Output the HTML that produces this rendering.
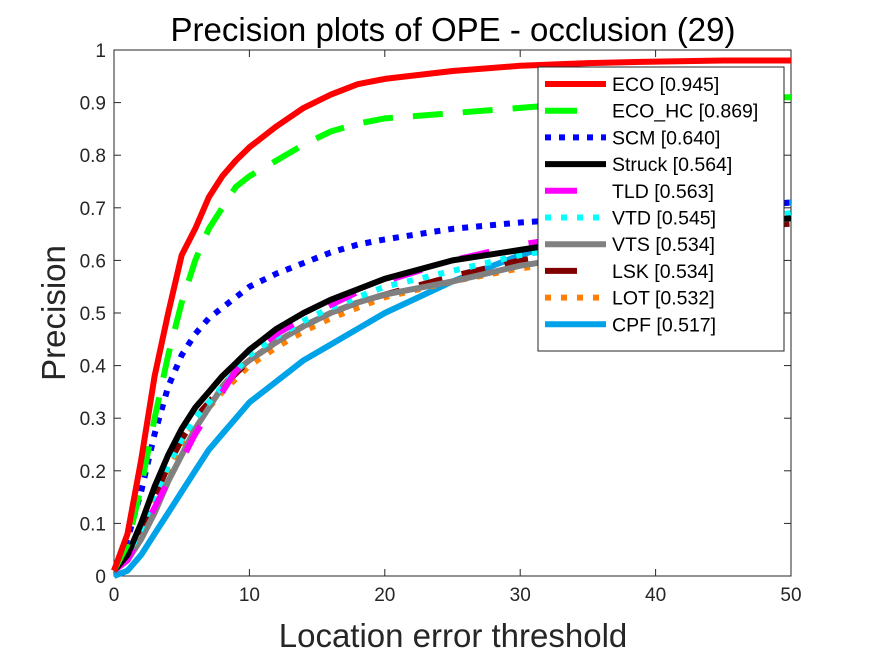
<!DOCTYPE html>
<html><head><meta charset="utf-8"><style>
body{margin:0;background:#fff;}
svg text{font-family:"Liberation Sans",sans-serif;}
</style></head><body>
<svg id="chart" width="875" height="656" xmlns="http://www.w3.org/2000/svg">
<rect width="875" height="656" fill="#fff"/>
<text x="453" y="41" font-size="33" text-anchor="middle" fill="#000">Precision plots of OPE - occlusion (29)</text>
<g id="axes"></g>
<g id="series"></g>
<text x="453" y="647" font-size="33" text-anchor="middle" fill="#262626">Location error threshold</text>
<text transform="translate(65,313) rotate(-90)" font-size="33" text-anchor="middle" fill="#262626">Precision</text>
<g id="legend"></g>
</svg>
<script>
const thresholds=[0,1,2,3,4,5,6,7,8,9,10,12,14,16,18,20,25,30,35,40,45,50];
const seriesNames=["ECO [0.945]","ECO_HC [0.869]","SCM [0.640]","Struck [0.564]","TLD [0.563]","VTD [0.545]","VTS [0.534]","LSK [0.534]","LOT [0.532]","CPF [0.517]"];
const eco=[0.01,0.08,0.22,0.38,0.5,0.61,0.66,0.72,0.76,0.79,0.815,0.855,0.89,0.915,0.935,0.945,0.96,0.97,0.975,0.978,0.98,0.98];
const ecoHc=[0.01,0.06,0.17,0.3,0.42,0.52,0.6,0.66,0.7,0.74,0.76,0.79,0.82,0.845,0.86,0.87,0.88,0.89,0.9,0.905,0.91,0.91];
const scm=[0.01,0.07,0.16,0.27,0.36,0.42,0.46,0.49,0.51,0.53,0.55,0.575,0.595,0.615,0.63,0.64,0.66,0.672,0.68,0.69,0.7,0.71];
const struck=[0.01,0.04,0.1,0.17,0.23,0.28,0.32,0.35,0.38,0.405,0.43,0.47,0.5,0.525,0.545,0.565,0.6,0.62,0.64,0.66,0.67,0.68];
const tld=[0.01,0.03,0.08,0.13,0.18,0.22,0.27,0.31,0.35,0.39,0.42,0.46,0.49,0.515,0.54,0.56,0.6,0.63,0.65,0.66,0.67,0.68];
const vtd=[0.01,0.04,0.09,0.15,0.21,0.26,0.3,0.33,0.36,0.39,0.42,0.455,0.485,0.51,0.53,0.55,0.58,0.61,0.63,0.65,0.67,0.69];
const vts=[0.01,0.03,0.07,0.12,0.18,0.23,0.28,0.32,0.36,0.39,0.41,0.445,0.475,0.5,0.52,0.535,0.56,0.59,0.61,0.64,0.66,0.68];
const lsk=[0.01,0.04,0.09,0.15,0.21,0.26,0.3,0.33,0.36,0.385,0.41,0.445,0.475,0.5,0.52,0.535,0.57,0.6,0.62,0.64,0.66,0.67];
const lot=[0.01,0.03,0.08,0.14,0.2,0.25,0.29,0.32,0.35,0.375,0.4,0.435,0.465,0.49,0.51,0.53,0.56,0.585,0.6,0.62,0.64,0.66];
const cpf=[0,0.01,0.04,0.08,0.12,0.16,0.2,0.24,0.27,0.3,0.33,0.37,0.41,0.44,0.47,0.5,0.56,0.61,0.65,0.68,0.7,0.71];
const xTicks=[0,10,20,30,40,50];
const yTicks=[0,0.1,0.2,0.3,0.4,0.5,0.6,0.7,0.8,0.9,1];
const yTickLabels=["0","0.1","0.2","0.3","0.4","0.5","0.6","0.7","0.8","0.9","1"];

const L=114,R=791,T=50,B=576;
const xs=v=>L+(v/50)*(R-L);
const ys=v=>B-v*(B-T);
const NS="http://www.w3.org/2000/svg";
function mk(tag,attrs,parent){const e=document.createElementNS(NS,tag);for(const k in attrs)e.setAttribute(k,attrs[k]);parent.appendChild(e);return e;}

const axes=document.getElementById('axes');
const box=mk('rect',{x:L,y:T,width:R-L,height:B-T,fill:'none',stroke:'#262626','stroke-width':1},axes);


xTicks.forEach(t=>{
  const x=xs(t);
  mk('line',{x1:x,y1:B,x2:x,y2:B-7,stroke:'#262626'},axes);
  mk('line',{x1:x,y1:T,x2:x,y2:T+7,stroke:'#262626'},axes);
  const tx=mk('text',{x:x,y:B+25,'font-size':19,'text-anchor':'middle',fill:'#262626'},axes);
  tx.textContent=t;
  
  
});
yTicks.forEach((t,i)=>{
  const y=ys(t);
  mk('line',{x1:L,y1:y,x2:L+7,y2:y,stroke:'#262626'},axes);
  mk('line',{x1:R,y1:y,x2:R-7,y2:y,stroke:'#262626'},axes);
  const tx=mk('text',{x:L-8,y:y+7,'font-size':19,'text-anchor':'end',fill:'#262626'},axes);
  tx.textContent=yTickLabels[i];
  
  
});

const allData=[eco,ecoHc,scm,struck,tld,vtd,vts,lsk,lot,cpf];
const colors=["#ff0000","#00ff00","#0000ff","#000000","#ff00ff","#00ffff","#808080","#800000","#ff8000","#00a2e8"];
const dashes=["","30 20","6 8","","30 40","6 10","","24 20","6 10",""];
const seriesG=document.getElementById('series');
for(let s=allData.length-1;s>=0;s--){
  const d=allData[s].map((v,i)=>(i?'L':'M')+xs(thresholds[i]).toFixed(1)+','+ys(v).toFixed(1)).join(' ');
  const p=mk('path',{d:d,fill:'none',stroke:colors[s],'stroke-width':6,'stroke-linejoin':'round'},seriesG);
  if(dashes[s])p.setAttribute('stroke-dasharray',dashes[s]);
  
  
}

const lg=document.getElementById('legend');
const lbox=mk('rect',{x:538,y:67,width:246,height:284,fill:'#fff',stroke:'#262626','stroke-width':1},lg);


const legDash=["","32 30","6 8","","32 30","6 10","","32 30","6 10",""];
seriesNames.forEach((n,i)=>{
  const y=84+i*26.7;
  const ln=mk('line',{x1:545,y1:y,x2:606,y2:y,stroke:colors[i],'stroke-width':6},lg);
  if(legDash[i])ln.setAttribute('stroke-dasharray',legDash[i]);
  
  
  const tx=mk('text',{x:612,y:y+7,'font-size':19.5,fill:'#000'},lg);
  tx.textContent=n;
  
  
});
</script>
</body></html>
